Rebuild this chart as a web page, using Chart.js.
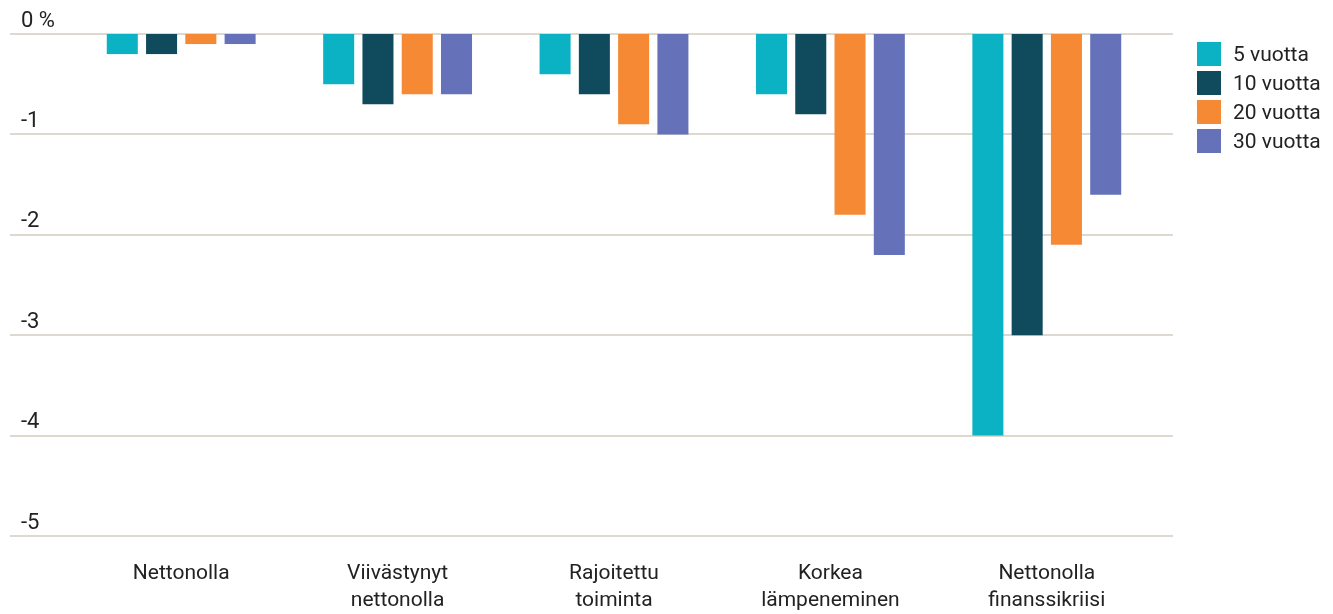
<!DOCTYPE html>
<html><head><meta charset="utf-8">
<script src="https://cdn.jsdelivr.net/npm/chart.js@4"></script>
<style>
html,body{margin:0;padding:0;background:#fff;}
#wrap{position:relative;width:1333px;height:614px;}
#legend{position:absolute;left:1197px;top:39px;font-family:Roboto,sans-serif;font-size:21px;color:#222;}
.li{display:flex;align-items:center;height:29px;}
.sw{width:24px;height:24px;margin-right:12px;}
</style></head>
<body>
<div id="wrap"><canvas id="c" width="1333" height="614"></canvas><div id="legend"></div></div>
<script>
const categories = ['Nettonolla', ['Viivästynyt','nettonolla'], ['Rajoitettu','toiminta'], ['Korkea','lämpeneminen'], ['Nettonolla','finanssikriisi']];
const seriesNames = ['5 vuotta', '10 vuotta', '20 vuotta', '30 vuotta'];
const v5  = [-0.2, -0.5, -0.4, -0.6, -4.0];
const v10 = [-0.2, -0.7, -0.6, -0.8, -3.0];
const v20 = [-0.1, -0.6, -0.9, -1.8, -2.1];
const v30 = [-0.1, -0.6, -1.0, -2.2, -1.6];
const yTicks = [0, -1, -2, -3, -4, -5];
const colors = ['#0bb2c3', '#0f4b5c', '#f68934', '#6571b9'];

const seriesValues = [v5, v10, v20, v30];
const datasets = seriesNames.map((n, i) => ({
  label: n, data: seriesValues[i], backgroundColor: colors[i],
  categoryPercentage: 0.726, barPercentage: 0.79, borderWidth: 0
}));

const gridPlugin = {
  id: 'fullGrid',
  beforeDatasetsDraw(chart) {
    const y = chart.scales.y, ctx = chart.ctx;
    ctx.save();
    ctx.strokeStyle = '#ddd9ce';
    ctx.lineWidth = 2;
    yTicks.forEach(t => {
      const py = Math.round(y.getPixelForValue(t));
      ctx.beginPath(); ctx.moveTo(10, py); ctx.lineTo(1173, py); ctx.stroke();
    });
    ctx.restore();
  }
};

const FONT = {family: 'Roboto, sans-serif', size: 21, lineHeight: 1.25};
new Chart(document.getElementById('c'), {
  type: 'bar',
  data: {labels: categories, datasets},
  plugins: [gridPlugin],
  options: {
    responsive: false, animation: false,
    layout: {padding: {left: 21, top: 34, right: 178, bottom: 0}},
    plugins: {legend: {display: false}, tooltip: {enabled: false}},
    scales: {
      x: {
        grid: {display: false, drawTicks: false}, border: {display: false},
        ticks: {color: '#222', font: FONT, padding: 25, maxRotation: 0, autoSkip: false},
        afterFit(s) { s.height = 78; }
      },
      y: {
        min: -5, max: 0,
        grid: {display: false, drawTicks: false}, border: {display: false},
        ticks: {
          stepSize: 1, color: '#222', font: {family: 'Roboto, sans-serif', size: 22}, crossAlign: 'far', labelOffset: -13, padding: 0,
          callback: v => v === 0 ? '0 %' : String(v)
        },
        afterFit(s) { s.width = 52; }
      }
    }
  }
});

const lg = document.getElementById('legend');
seriesNames.forEach((n, i) => {
  const row = document.createElement('div'); row.className = 'li';
  const sw = document.createElement('div'); sw.className = 'sw'; sw.style.background = colors[i];
  const tx = document.createElement('span'); tx.textContent = n;
  row.appendChild(sw); row.appendChild(tx); lg.appendChild(row);
});
</script>
</body></html>
